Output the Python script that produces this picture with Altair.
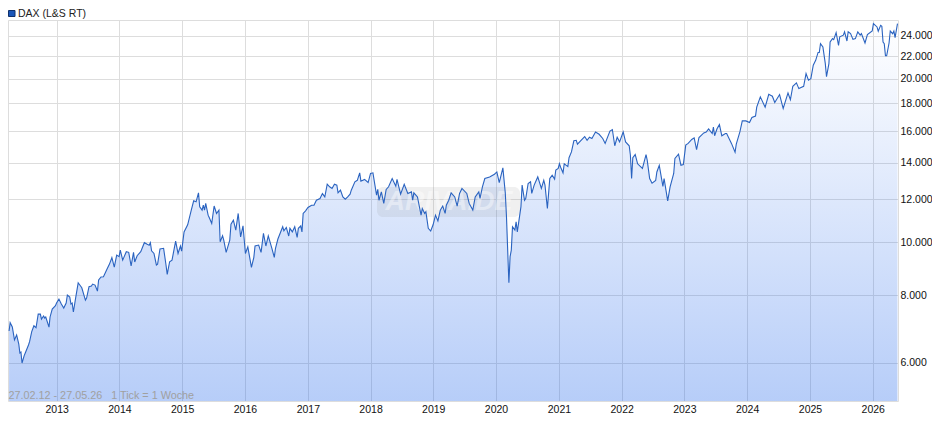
import pandas as pd
import altair as alt

# Woche seit 20.02.2012 (1 Tick = 1 Woche)
weeks = [
    1, 2, 4, 6, 8, 10, 11, 12, 13, 15, 16, 19, 20, 22, 24, 26, 28, 30, 31, 33, 34, 35, 38, 39, 41, 44,
    45, 47, 49, 51, 53, 54, 56, 57, 58, 59, 61, 63, 66, 69, 70, 72, 74, 75, 77, 79, 80, 82, 84, 87, 89, 91, 93, 95,
    97, 98, 100, 103, 105, 107, 109, 110, 112, 115, 118, 120, 122, 123, 124, 126, 128, 129, 131, 134, 136, 137, 139, 141, 144, 146, 148,
    149, 151, 154, 157, 159, 161, 163, 164, 166, 167, 168, 169, 171, 172, 174, 176, 178, 180, 181, 183, 184, 186, 189, 190, 192, 194, 196, 198,
    200, 202, 204, 207, 209, 210, 213, 215, 217, 219, 221, 224, 226, 227, 229, 233, 234, 236, 238, 239, 241, 243, 245, 246, 248, 249,
    250, 252, 254, 257, 259, 261, 264, 266, 268, 270, 272, 274, 276, 278, 279, 281, 283, 285, 287, 289, 290, 293, 295, 297, 298, 301, 304,
    306, 308, 311, 312, 313, 315, 317, 319, 321, 324, 327, 328, 331, 334, 337, 340, 341, 342, 345, 348, 349, 351, 352, 354, 356,
    358, 360, 362, 364, 366, 368, 369, 371, 373, 376, 378, 380, 382, 386, 388, 391, 393, 396, 397, 399, 401, 405, 409,
    411, 413, 416, 418, 419, 420, 421, 422, 423, 424, 426, 427, 428, 431, 432, 434, 435, 437, 439, 440, 442, 445, 448, 450, 451, 453, 455, 457, 459, 460,
    462, 463, 464, 466, 467, 470, 471, 473, 475, 477, 478, 481, 484, 486, 488, 490, 493, 496, 499, 501, 505, 507, 509, 511, 513,
    516, 518, 521, 522, 523, 524, 526, 528, 532, 535, 536, 538, 540, 543, 544, 546, 549, 550, 553, 555, 558, 559, 562, 564, 566,
    568, 570, 573, 575, 577, 579, 583, 585, 587, 590, 591, 592, 594, 596, 598, 601, 602, 606, 609, 610, 613, 615, 618,
    621, 623, 626, 627, 630, 634, 637, 640, 642, 646, 649, 653, 655, 657, 660, 662, 666, 668, 670,
    672, 674, 676, 678, 679, 680, 682, 684, 685, 687, 688, 690, 691, 693, 695, 696, 699, 700, 702, 703, 705, 707, 709, 711, 713, 714, 717, 719, 723,
    724, 727, 728, 730, 731, 732, 733, 734, 735, 737, 738, 740, 741, 742, 744,
]
dax = [
    6870, 7115, 6987, 6615, 6755, 6500, 6259, 6285, 6000, 6190, 6259, 6475, 6565, 6850, 7025, 6965, 7380, 7380, 7225, 7320, 7258, 7290, 6985, 7290, 7540, 7645,
    7734, 7865, 7700, 7572, 7734, 8000, 7930, 7700, 7734, 7445, 7930, 8425, 8250, 7830, 7899, 8285, 8310, 8380, 8345, 8135, 8525, 8635, 8645, 8930, 9120, 9370, 9005, 9475,
    9410, 9675, 9275, 9610, 9585, 9045, 9585, 9200, 9450, 9610, 9985, 9925, 9880, 9985, 9645, 9540, 9085, 9120, 9720, 9750, 9085, 8730, 9210, 9275, 10050, 9540, 9845,
    9635, 10450, 10770, 11460, 11920, 11870, 12330, 11620, 11460, 11700, 11460, 11790, 11220, 11095, 10835, 11660, 11300, 11460, 10020, 10280, 10095, 9585, 10095, 10800, 10985, 10530, 11300, 10235,
    10725, 9540, 9810, 8995, 9385, 9845, 9885, 9585, 10385, 9845, 10280, 9750, 9385, 9750, 10140, 10680, 10500, 10650, 10270, 10610, 10450, 10680, 10210, 10610, 10720, 10450,
    11300, 11425, 11590, 11700, 11700, 11950, 12040, 12290, 12120, 12790, 12650, 12560, 12790, 12740, 12330, 12470, 12120, 12000, 12120, 12260, 12470, 12920, 13000, 13420, 12955, 13050, 12880,
    13385, 13420, 12210, 12510, 11950, 12380, 11790, 12510, 12650, 13100, 12680, 13050, 12260, 12780, 12300, 12380, 11950, 12330, 12120, 11220, 11540, 11300, 11380, 10610, 10490,
    10770, 11220, 10950, 11460, 11660, 11300, 11700, 11950, 12330, 12120, 11660, 12300, 12560, 12300, 11790, 11460, 12120, 12380, 12040, 12650, 13100, 13190, 13340,
    13470, 12880, 13705, 12330, 11145, 9675, 8425, 9410, 9675, 10680, 10530, 10910, 10450, 11620, 12740, 11950, 12040, 12830, 12920, 12300, 12740, 13190, 12560, 13000, 12740, 11540, 13100, 13280, 13070, 13580,
    13670, 13945, 13740, 13420, 13945, 13780, 14310, 14660, 15370, 15400, 15150, 15400, 15650, 15400, 15600, 15520, 15955, 15800, 15520, 15200, 16020, 16120, 15050, 15600, 15300,
    15955, 15300, 15050, 14460, 13100, 14310, 14500, 13945, 13670, 14500, 14150, 13100, 12840, 12990, 13470, 13850, 12670, 13100, 11920, 12650, 13385, 14260, 14520, 13860, 13900,
    15090, 15200, 15455, 15560, 14800, 15585, 15890, 15955, 16170, 15850, 16290, 15700, 16170, 16460, 15700, 15850, 15850, 15200, 14640, 15150, 15955, 16720, 16720,
    16600, 16960, 17070, 17720, 18510, 17720, 18715, 18560, 18070, 18690, 17620, 18820, 18300, 19360, 19640, 19170, 19360, 20430, 19860,
    20000, 21160, 21610, 22340, 22340, 23190, 22860, 21310, 20170, 21310, 23350, 23690, 23590, 24300, 23020, 23870, 24040, 24380, 23450, 24380, 24190, 23615, 23690, 24380, 24040, 24190, 23250, 24090, 24460,
    25240, 24885, 24440, 25060, 24960, 23350, 23190, 22030, 22030, 23250, 24460, 24190, 24460, 23790, 25240,
]
y_ticks = [6000, 8000, 10000, 12000, 14000, 16000, 18000, 20000, 22000, 24000]
years = list(range(2013, 2027))

font = "Liberation Sans"
plot_w = 890
plot_h = 381


def week_of(day):
    return (pd.Timestamp(day) - pd.Timestamp("2012-02-20")).days / 7


source = pd.DataFrame({"Woche": weeks, "Kurs": dax})
one = pd.DataFrame({"a": [0]})

x_enc = alt.X(
    "Woche:Q",
    title=None,
    scale=alt.Scale(
        domain=[0, week_of("2013-01-01"), week_of("2026-05-28")],
        range=[0, 48.7, plot_w],
        zero=False,
        nice=False,
    ),
    axis=alt.Axis(
        values=[week_of(f"{y}-01-01") for y in years],
        labelExpr="format(round(2012.137 + datum.value * 7 / 365.25), 'd')",
        labelAngle=0,
        labelFlush=False,
        labelOverlap=False,
        labelPadding=3,
        tickSize=0,
        domain=False,
        gridColor="#dddddd",
    ),
)
y_enc = alt.Y(
    "Kurs:Q",
    title=None,
    stack=None,
    scale=alt.Scale(type="log", domain=[5108, 25630], nice=False),
    axis=alt.Axis(
        orient="right",
        values=y_ticks,
        labelExpr="replace(format(datum.value, ','), ',', '.')",
        labelPadding=2,
        tickSize=0,
        domain=False,
        gridColor="#dddddd",
    ),
)

area = (
    alt.Chart(source)
    .mark_area(
        line=False,
        fill=alt.Gradient(
            gradient="linear",
            stops=[
                alt.GradientStop(color="rgba(30,100,235,0.0)", offset=0),
                alt.GradientStop(color="rgba(30,100,235,0.32)", offset=1),
            ],
            x1=1,
            x2=1,
            y1=0,
            y2=1,
        ),
    )
    .encode(x=x_enc, y=y_enc, y2=alt.value(plot_h))
)

# ARIVA Wasserzeichen
stamp_box = (
    alt.Chart(one)
    .mark_rect(cornerRadius=6, color="#808080", opacity=0.12)
    .encode(
        x=alt.value(369), x2=alt.value(512), y=alt.value(167), y2=alt.value(197)
    )
)
stamp_text = (
    alt.Chart(one)
    .mark_text(
        text="ARIVA.DE",
        font=font,
        fontSize=27,
        fontStyle="italic",
        fontWeight="bold",
        color="#ffffff",
        opacity=0.4,
        align="center",
        baseline="middle",
    )
    .encode(x=alt.value(441), y=alt.value(182))
)

line = (
    alt.Chart(source)
    .mark_line(color="#2a63c0", strokeWidth=1.1, interpolate="linear")
    .encode(x=x_enc, y=y_enc)
)

legend_box = (
    alt.Chart(one)
    .mark_rect(color="#1a56b8", stroke="#10306a", strokeWidth=1)
    .encode(x=alt.value(0.5), x2=alt.value(7), y=alt.value(-9.5), y2=alt.value(-3.5))
)
legend_text = (
    alt.Chart(one)
    .mark_text(text="DAX (L&S RT)", font=font, fontSize=10.5, color="#222222", align="left", baseline="alphabetic")
    .encode(x=alt.value(10), y=alt.value(-3))
)
range_text = (
    alt.Chart(one)
    .mark_text(
        text="27.02.12 - 27.05.26\u00a0\u00a0\u00a01 Tick = 1 Woche",
        font=font,
        fontSize=10.8,
        color="#a0a0a0",
        align="left",
        baseline="alphabetic",
    )
    .encode(x=alt.value(0.5), y=alt.value(379))
)

chart = (
    alt.layer(area, stamp_box, stamp_text, line, legend_box, legend_text, range_text)
    .properties(
        width=plot_w,
        height=plot_h,
        padding={"left": 0, "top": 12, "right": 34, "bottom": 20},
        autosize=alt.AutoSizeParams(type="none"),
        background="#ffffff",
    )
    .configure_view(stroke="#dddddd", strokeWidth=1)
    .configure_axis(labelFont=font, labelFontSize=10.5, labelColor="#111111")
)

chart.save("out.html", embed_options={"renderer": "svg", "actions": False})
